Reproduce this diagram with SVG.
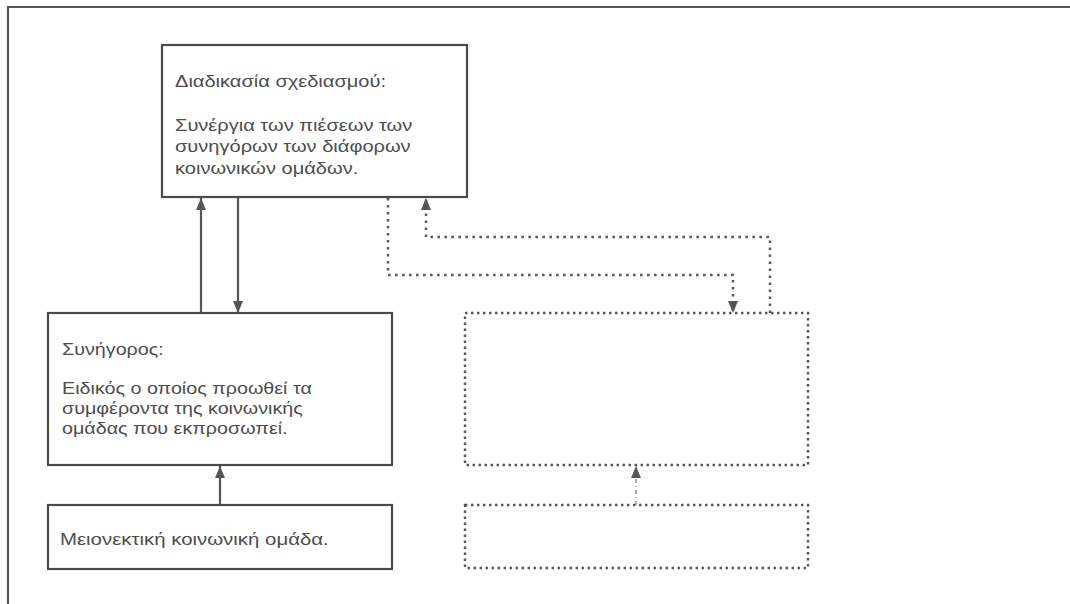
<svg xmlns="http://www.w3.org/2000/svg" width="1070" height="604" viewBox="0 0 1070 604">
<style>
.frame{fill:none;stroke:#555;stroke-width:2.2}
.box{fill:#fff;stroke:#4a4a4a;stroke-width:2.2}
.dbox{fill:#fff;stroke:#555;stroke-width:2.4;stroke-dasharray:2.4 3.6}
.solid{fill:none;stroke:#555;stroke-width:2.2}
.dot{fill:none;stroke:#5a5a5a;stroke-width:2.5;stroke-dasharray:2.6 4.4}
.thin{fill:none;stroke:#777;stroke-width:1.2;stroke-dasharray:4 3 1 3}
text{font-family:"Liberation Sans",Arial,sans-serif;font-size:17px;fill:#4d4d4d}
</style>
<defs>
<marker id="ah" viewBox="0 0 12 10" refX="12" refY="5" markerWidth="12" markerHeight="10" markerUnits="userSpaceOnUse" orient="auto">
<path d="M0,0 L12,5 L0,10 z" fill="#555"/>
</marker>
</defs>
<rect width="1070" height="604" fill="#fff"/>
<path class="frame" d="M8,610 V7 H1075"/>
<g id="connectors">
<path class="solid" d="M201,313 V198" marker-end="url(#ah)"/>
<path class="solid" d="M238,198 V313" marker-end="url(#ah)"/>
<path class="solid" d="M220,505 V466" marker-end="url(#ah)"/>
<path class="dot" d="M388,198 V275 H733 V313" marker-end="url(#ah)"/>
<path class="dot" d="M770,313 V237 H426 V198" marker-end="url(#ah)"/>
<path class="thin" d="M636,505 V466" marker-end="url(#ah)"/>
</g>
<g id="node-planning">
<rect class="box" x="162" y="45" width="305" height="152"/>
<text transform="translate(175,87) scale(1.18,1)">Διαδικασία σχεδιασμού:</text>
<text transform="translate(175,131) scale(1.18,1)">Συνέργια των πιέσεων των</text>
<text transform="translate(175,152) scale(1.18,1)">συνηγόρων των διάφορων</text>
<text transform="translate(175,174) scale(1.18,1)">κοινωνικών ομάδων.</text>
</g>
<g id="node-advocate">
<rect class="box" x="48" y="313" width="344" height="152"/>
<text transform="translate(62,355) scale(1.16,1)">Συνήγορος:</text>
<text transform="translate(62,394) scale(1.16,1)">Ειδικός ο οποίος προωθεί τα</text>
<text transform="translate(62,414) scale(1.16,1)">συμφέροντα της κοινωνικής</text>
<text transform="translate(62,434) scale(1.16,1)">ομάδας που εκπροσωπεί.</text>
</g>
<g id="node-group">
<rect class="box" x="48" y="505" width="344" height="64"/>
<text transform="translate(60,545) scale(1.2,1)">Μειονεκτική κοινωνική ομάδα.</text>
</g>
<g id="node-empty-1">
<rect class="dbox" x="465" y="313" width="343" height="152"/>
</g>
<g id="node-empty-2">
<rect class="dbox" x="465" y="505" width="343" height="63"/>
</g>
</svg>
